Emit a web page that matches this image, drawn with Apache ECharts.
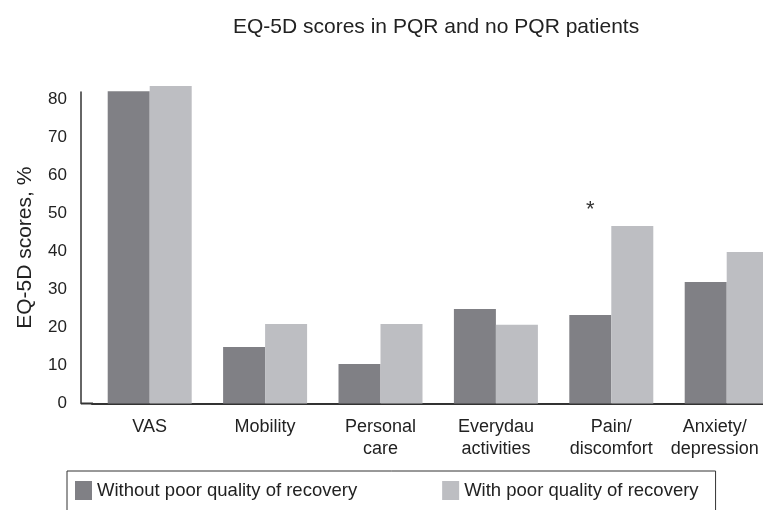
<!DOCTYPE html>
<html>
<head>
<meta charset="utf-8">
<script src="https://cdn.jsdelivr.net/npm/echarts@6/dist/echarts.min.js"></script>
<style>html,body{margin:0;padding:0;background:#fff}#c{width:763px;height:510px}</style>
</head>
<body>
<div id="c"></div>
<script>
var categories = ['VAS', 'Mobility', 'Personal\ncare', 'Everydau\nactivities', 'Pain/\ndiscomfort', 'Anxiety/\ndepression'];
var withoutPQR = [82.2, 14.9, 10.4, 24.9, 23.3, 32.0];
var withPQR = [83.6, 20.9, 20.9, 20.7, 46.7, 39.9];
var significance = ['', '', '', '', '*', ''];
var yTicks = [0, 10, 20, 30, 40, 50, 60, 70, 80];

var FONT = '"Liberation Sans", Arial, sans-serif';
var chart = echarts.init(document.getElementById('c'), null, {renderer: 'canvas'});

var lightData = withPQR.map(function (v, i) {
  if (!significance[i]) return v;
  return {
    value: v,
    label: {
      show: true, position: 'top', formatter: significance[i],
      offset: [-42, 0], fontSize: 22, color: '#333', fontFamily: FONT
    }
  };
});

// last category label is nudged left so it stays inside the picture
var categoryItems = categories.map(function (c, i) {
  if (i === categories.length - 1) {
    return {value: c, textStyle: {padding: [0, 24, 0, 0]}};
  }
  return c;
});

chart.setOption({
  animation: false,
  backgroundColor: '#fff',
  title: {
    text: 'EQ-5D scores in PQR and no PQR patients',
    left: 228, top: 12,
    textStyle: {fontSize: 21, fontWeight: 'normal', color: '#222', fontFamily: FONT}
  },
  legend: {
    left: 67, top: 471,
    padding: [10, 17, 20, 8],
    borderColor: '#333', borderWidth: 1,
    itemWidth: 17, itemHeight: 19, itemGap: 85,
    icon: 'rect',
    textStyle: {fontSize: 18.5, color: '#222', fontFamily: FONT},
    data: ['Without poor quality of recovery', 'With poor quality of recovery']
  },
  grid: {left: 92, width: 692.4, top: 92, bottom: 106.5, outerBoundsMode: 'none', containLabel: false},
  xAxis: {
    type: 'category',
    data: categoryItems,
    axisTick: {show: false},
    axisLine: {lineStyle: {color: '#333', width: 2}},
    axisLabel: {fontSize: 18, color: '#222', fontFamily: FONT, margin: 13, lineHeight: 22, interval: 0}
  },
  yAxis: {
    type: 'value', min: 0, max: 82, interval: 10,
    offset: 11,
    name: 'EQ-5D scores, %', nameLocation: 'middle', nameGap: 45, nameRotate: 90,
    nameTextStyle: {fontSize: 21, color: '#222', fontFamily: FONT},
    axisLine: {show: true, lineStyle: {color: '#333', width: 1.5}},
    axisTick: {show: false},
    splitLine: {show: false},
    axisLabel: {
      fontSize: 17, color: '#222', fontFamily: FONT, margin: 14,
      showMaxLabel: false,
      formatter: function (v) { return yTicks.indexOf(v) >= 0 ? String(v) : ''; }
    }
  },
  graphic: [{
    type: 'line', shape: {x1: 81, y1: 403.5, x2: 93, y2: 403.5},
    style: {stroke: '#333', lineWidth: 2}
  }],
  series: [
    {
      name: 'Without poor quality of recovery', type: 'bar', data: withoutPQR,
      barWidth: 42, barGap: '0%', clip: false,
      itemStyle: {color: '#808085'}
    },
    {
      name: 'With poor quality of recovery', type: 'bar', data: lightData,
      barWidth: 42, barGap: '0%', clip: false,
      itemStyle: {color: '#bdbec2'}
    }
  ]
});
</script>
</body>
</html>
